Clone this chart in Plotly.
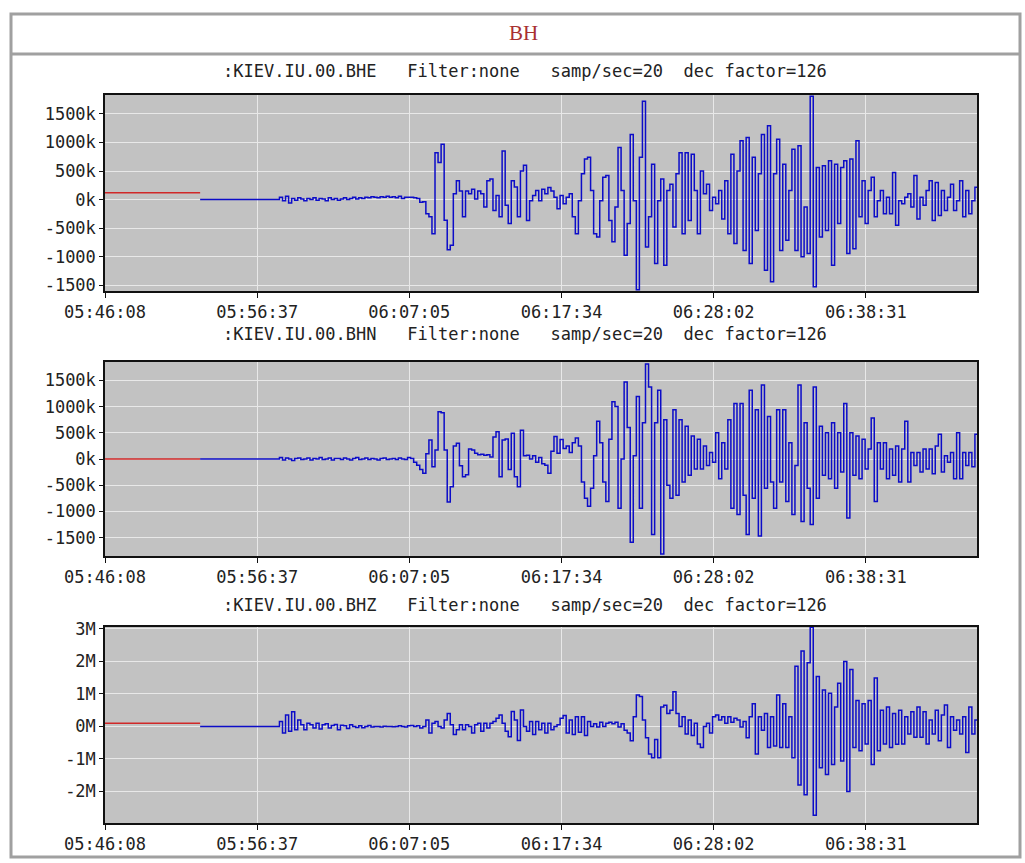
import numpy as np
import pandas as pd
import plotly.graph_objects as go
from plotly.subplots import make_subplots

# Station KIEV.IU.00, 20 samp/sec decimated by 126 -> one point every 6.3 s.
# Every second decimated sample is kept here (12.6 s).
SAMPLE_STEP_S = 2 * 126 / 20
DAY = "2011-03-11 "
WINDOW_START = DAY + "05:46:08"
WINDOW_END = DAY + "06:46:10"
TRACE_START = DAY + "05:52:41"

CHANNELS = ["BHE", "BHN", "BHZ"]
X_TICKS = ["05:46:08", "05:56:37", "06:07:05", "06:17:34", "06:28:02", "06:38:31"]

# level of the red (pre-record) segment for each channel
RED_LEVEL = [120, 0, 0.1]

# BHE, in thousands of counts
bhe = [0, 0, 0, 0, 0, 0, 0, 0, 0, 0, 0, 0, 0, 0, 0, 0, 0, 0, 0, 0, 0, 0, 0, 0, 0, 0,
       40, -20, 60, -60, 20, -10, 30, 10, -20, 20, 0, 30, -10, 20, 10, -20, 30, 0, 20, -10,
       10, 30, 0, 20, 40, 10, 30, 20, 40, 30, 50, 40, 30, 50, 40, 60, 40, 50, 30, 60, 20, 40,
       40, 40, 30, 20, -45, -40, -250, -300, -600, 820, 650, 970, -360, -880, -800, 100, 330,
       150, -300, 150, 100, 180, 10, 150, 100, -130, 330, 360, -190, 70, -300, 850, -100, -420,
       330, 220, -300, 500, 600, -365, -20, 70, 160, -20, 180, 100, 210, 150, 40, -160, 70,
       -75, 40, 100, -300, -600, -20, 450, 710, 740, 160,
       -600, -655, -20, 390, 420, -365, -740, -130, 910, 160,
       -975, -420, 1140, -20, -1580, 740, 1720, -830, -300, 620,
       -1120, -20, 360, -1150, 160, 270, -480, 450, 820, -600,
       820, -365, 795, 160, -600, 500, 100, 270, -190, 40,
       -75, 160, -340, 330, -600, 795, -770, 500, 1030, -890,
       1085, -1120, 740, -540, 450, 1140, -1235, 1290, -1440, 450,
       1055, -890, 620, -710, 160, 880, -890, 940, -1000, -130,
       -945, 1810, -1525, 560, -655, 590, -540, 680, -1150, 620,
       -420, 560, 680, -945, 710, -860, 1030, -300, 330, -420,
       160, 390, -300, -20, 160, -250, 40, -250, 475, -450,
       -20, -75, 40, 100, -130, 420, -340, 40, -100, 160,
       330, -365, 300, -280, 160, -190, 40, 270, -190, -20,
       330, -300, 160, -250, -20, 215, -190]

# BHN, in thousands of counts
bhn = [0, 0, 0, 0, 0, 0, 0, 0, 0, 0, 0, 0, 0, 0, 0, 0, 0, 0, 0, 0, 0, 0, 0, 0, 0, 0,
       30, -20, 20, 0, -30, 10, 20, -10, 0, 20, -20, 10, 0, 30, -10, 0, 20, -20, 10, 10,
       -10, 20, 0, -20, 10, 30, -10, 0, 20, -10, 10, 0, -20, 10, 20, -10, 0, 10, -10, 20, 0, -10,
       30, 10, -60, -120, -200, -270, 100, 360, -150, 170, 900, 880, 170, -820, -530, 250, 300,
       -130, -340, -300, 190, 170, 110, 80, 90, 70, 80, 40, 420, 520, -340, 360, 380, -200,
       490, -340, -530, 550, 60, 70, 0, 60, -60, 30, -90, -120, -270, 150, 430, 110, 370,
       200, 250, 125, 310, 400, 250, -440, -750, -900, -560,
       60, 720, 310, -440, -810, 375, 1090, 1000, -940, 0,
       1470, 600, -1590, 60, 1190, -940, 690, 1810, 1375, -1440,
       690, 1310, -1810, 750, -500, -750, 940, -690, 750, -440,
       625, -310, 440, -190, 375, -190, 250, -125, 125, -60,
       500, -375, 310, -190, 750, -940, 1060, -1060, 1060, -690,
       -1440, 1310, -750, 940, -1470, 1410, -560, 810, -440, -940,
       940, -440, 940, -810, 310, -1060, -125, 1410, -1190, 690,
       -560, -1250, 1375, -750, 625, -310, 500, -375, 690, -560,
       500, -250, 1060, -1125, 500, -310, 440, -375, 375, -190,
       190, 780, -810, 310, -190, 310, -375, 190, -310, 250,
       -440, 190, 720, -440, 125, -125, 125, -250, 190, -190,
       190, -280, 250, 470, -250, 60, -60, 125, -375, 500,
       -375, 125, -125, 125, -150, 470, 200]

# BHZ, in millions of counts
bhz = [0, 0, 0, 0, 0, 0, 0, 0, 0, 0, 0, 0, 0, 0, 0, 0, 0, 0, 0, 0, 0, 0, 0, 0, 0, 0,
       0.15, -0.2, 0.35, -0.15, 0.45, -0.1, 0.2, 0.05, -0.1, 0.1, 0.05, -0.05, 0.1, -0.08,
       0.05, 0.08, -0.05, 0.03, 0.06, -0.1, 0.04, 0.02, -0.06, 0.05, 0.0, -0.03, 0.02, -0.04,
       0.0, 0.03, -0.02, 0.0, 0.0, -0.02, 0.01, 0.0, 0.0, -0.01, 0.0, 0.02, 0.0, -0.02,
       0.02, 0.03, 0.0, 0.02, -0.05, 0.0, 0.2, -0.2, 0.1, 0.15, 0.0, -0.05, 0.2, 0.4, 0.05,
       -0.25, -0.1, 0.05, -0.1, 0.05, 0.0, -0.2, 0.05, 0.1, -0.15, 0.1, -0.05, 0.1, 0.15, 0.25,
       0.35, 0.1, -0.15, -0.32, 0.46, 0.2, -0.43, 0.51, 0.0, -0.15, 0.15, -0.25, 0.15, -0.1,
       0.1, -0.2, 0.1, -0.1, 0.0, 0.05, 0.25,
       0.34, -0.2, 0.2, -0.25, 0.3, -0.18, 0.3, -0.28, 0.15, 0.0,
       0.08, -0.02, 0.13, 0.0, 0.1, 0.13, 0.08, 0.13, -0.02, 0.08,
       -0.12, -0.2, -0.44, 0.3, 0.97, 0.92, 0.2, -0.35, -0.85, -0.96,
       -0.4, -0.96, 0.6, 0.65, 0.4, 0.5, 1.07, 0.4, 0.0, 0.3,
       -0.23, 0.2, -0.28, 0.1, -0.54, -0.65, 0.0, 0.1, -0.2, 0.3,
       0.35, 0.2, 0.3, 0.1, 0.3, 0.13, 0.25, 0.2, -0.02, 0.15,
       -0.35, 0.3, 0.7, -0.85, 0.3, -0.12, 0.4, -0.65, 0.3, -0.6,
       0.97, -0.65, 0.7, -0.65, 0.3, -0.96, 1.85, -1.8, 2.32, -2.1,
       1.96, 3.05, -2.73, 1.54, -1.27, 1.12, -1.48, 1.02, -1.17, 0.6,
       1.33, -1.06, 2.0, -2.0, 1.75, -0.65, 0.8, -0.75, 0.7, -0.54,
       0.8, -1.17, 1.49, -0.75, 0.5, -0.54, 0.6, -0.65, 0.4, -0.55,
       0.5, -0.54, 0.3, -0.23, 0.45, -0.33, 0.6, -0.33, 0.45, -0.54,
       0.2, -0.23, 0.5, -0.44, 0.35, 0.66, -0.65, 0.3, -0.12, 0.2,
       -0.23, 0.3, -0.8, 0.6, -0.23, 0.2, -0.12]

Y_RANGES = [[-1600, 1830], [-1850, 1850], [-2.97, 3.06]]
Y_TICKVALS = [[-1500, -1000, -500, 0, 500, 1000, 1500],
              [-1500, -1000, -500, 0, 500, 1000, 1500],
              [-2, -1, 0, 1, 2, 3]]
Y_TICKTEXT = [["-1500", "-1000", "-500k", "0k", "500k", "1000k", "1500k"],
              ["-1500", "-1000", "-500k", "0k", "500k", "1000k", "1500k"],
              ["-2M", "-1M", "0M", "1M", "2M", "3M"]]

W, H = 1025, 863
MONO = "DejaVu Sans Mono"


def px(x):
    return x / W


def py(y):
    return 1 - y / H


fig = make_subplots(rows=3, cols=1)

for row, (name, vals) in enumerate(zip(CHANNELS, [bhe, bhn, bhz]), start=1):
    t = pd.Timestamp(TRACE_START) + pd.to_timedelta(np.arange(len(vals)) * SAMPLE_STEP_S, unit="s")
    lvl = RED_LEVEL[row - 1]
    fig.add_trace(go.Scatter(x=[WINDOW_START, TRACE_START], y=[lvl, lvl], mode="lines",
                             line=dict(color="#d02828", width=1.4), hoverinfo="skip"),
                  row=row, col=1)
    fig.add_trace(go.Scatter(x=t, y=vals, mode="lines", line_shape="hv",
                             line=dict(color="#0c0cc8", width=1.5), name=name),
                  row=row, col=1)

# plot boxes (pixel rows of each panel)
boxes = [(95, 291), (362, 556), (627, 823)]
title_y = [71, 334, 605]
tick_dates = [DAY + s for s in X_TICKS]

for i, (top, bot) in enumerate(boxes):
    n = "" if i == 0 else str(i + 1)
    fig.layout["xaxis" + n].update(
        domain=[px(105), px(977)], type="date", automargin=False,
        range=[WINDOW_START, WINDOW_END],
        tickvals=tick_dates, ticktext=X_TICKS,
        showgrid=True, gridcolor="#e8e8e8", gridwidth=1,
        showline=True, mirror=True, linecolor="#111", linewidth=1.5,
        ticks="outside", ticklen=5, tickcolor="#111",
        tickfont=dict(family=MONO, size=17, color="#222"),
    )
    fig.layout["yaxis" + n].update(
        domain=[py(bot), py(top)], range=Y_RANGES[i], automargin=False,
        tickvals=Y_TICKVALS[i], ticktext=Y_TICKTEXT[i],
        showgrid=True, gridcolor="#e8e8e8", gridwidth=1, zeroline=False,
        showline=True, mirror=True, linecolor="#111", linewidth=1.5,
        ticks="outside", ticklen=4, tickcolor="#111",
        tickfont=dict(family=MONO, size=17, color="#222"),
    )
    fig.add_annotation(
        text=f":KIEV.IU.00.{CHANNELS[i]}   Filter:none   samp/sec=20  dec factor=126",
        xref="paper", yref="paper", x=px(525), y=py(title_y[i]),
        xanchor="center", yanchor="middle", showarrow=False,
        font=dict(family=MONO, size=17, color="#222"),
    )

fig.add_annotation(text="BH", xref="paper", yref="paper", x=px(523), y=py(33),
                   xanchor="center", yanchor="middle", showarrow=False,
                   font=dict(family="Liberation Serif", size=21, color="#a83030"))

# outer frame and the rule below the header
fig.add_shape(type="rect", xref="paper", yref="paper",
              x0=px(11), x1=px(1020), y0=py(857), y1=py(14),
              line=dict(color="#a0a0a0", width=3))
fig.add_shape(type="line", xref="paper", yref="paper",
              x0=px(11), x1=px(1020), y0=py(54), y1=py(54),
              line=dict(color="#a0a0a0", width=3))

fig.update_layout(
    width=W, height=H,
    margin=dict(l=0, r=0, t=0, b=0),
    paper_bgcolor="white",
    plot_bgcolor="#c2c2c2",
    showlegend=False,
)

# drop the default page margin so the figure sits at the window origin
fig.write_html("out.html", config={"displayModeBar": False},
               post_script="document.body.style.margin='0';document.body.style.overflow='hidden';")
